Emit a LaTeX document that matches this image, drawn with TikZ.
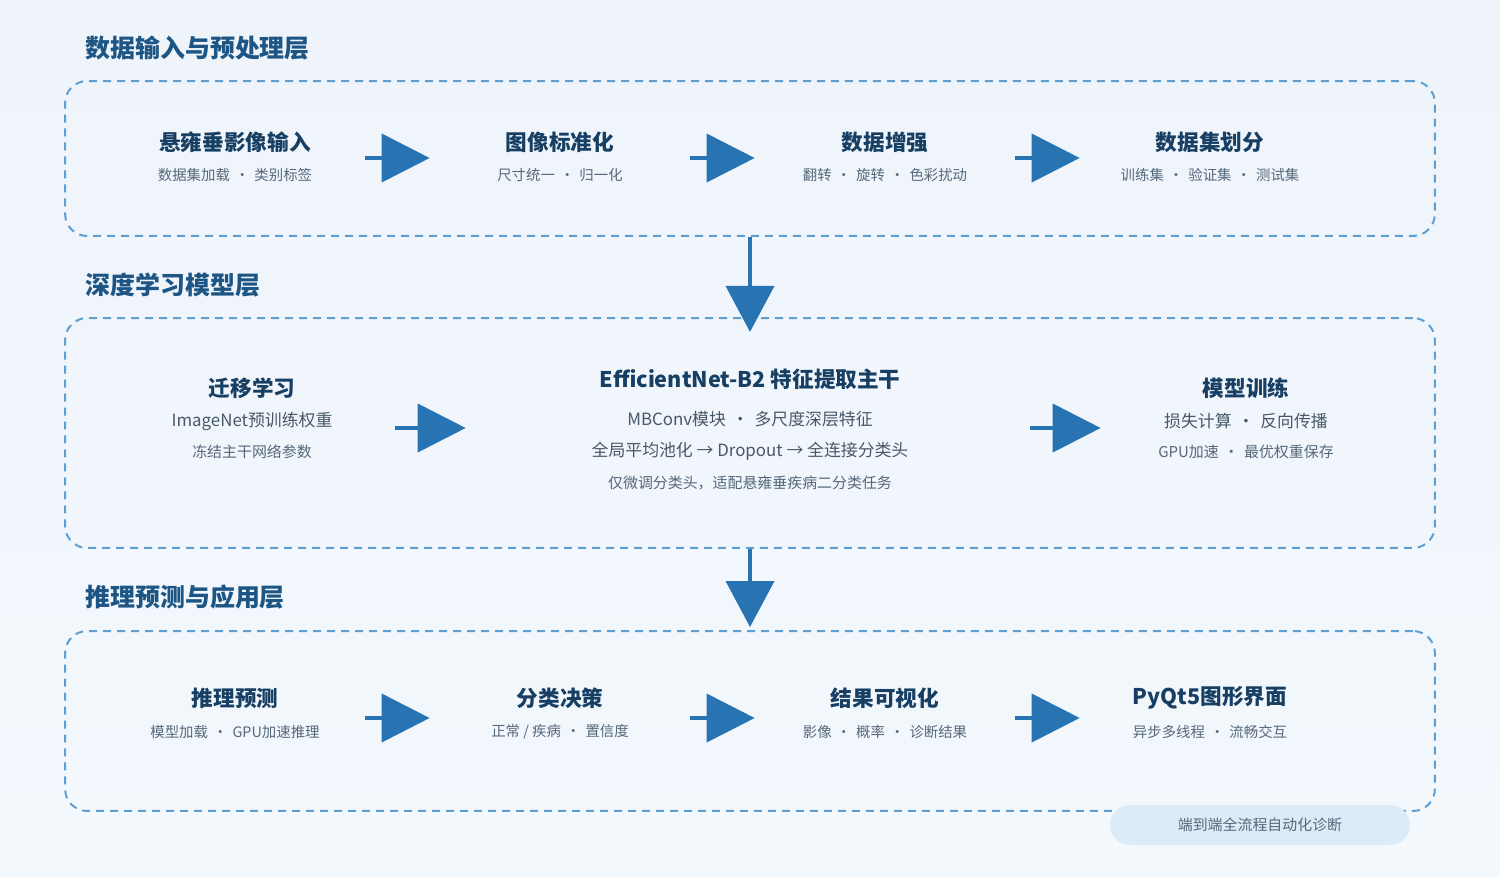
\documentclass[tikz,border=0pt]{standalone}
\usepackage{fontspec}
\setmainfont{Noto Sans CJK SC}
\usetikzlibrary{arrows.meta}

\newdimen\pxu \pxu=0.56906pt
\definecolor{bgtop}{HTML}{EEF4FA}
\definecolor{bgbot}{HTML}{F3F8FD}
\definecolor{dashblue}{HTML}{5E9FD3}
\definecolor{arrblue}{HTML}{2874B2}
\definecolor{secblue}{HTML}{1D5585}
\definecolor{ttlblue}{HTML}{173F63}
\definecolor{subgray}{HTML}{56687A}
\definecolor{tagfill}{HTML}{DCEBF8}
\newcommand\dotsep{\hspace{0.35em}·\hspace{0.35em}}

\begin{document}
\begin{tikzpicture}[x=0.02cm,y=-0.02cm,
	layer/.style={draw=dashblue, line width=2\pxu, dash pattern=on 8\pxu off 6\pxu, rounded corners=22\pxu, minimum width=1370\pxu},
	stage/.style={inner sep=0, minimum height=60\pxu},
	sec/.style={anchor=west, inner sep=0, text=secblue, font=\fontsize{14.2}{16}\selectfont\bfseries},
	ttl/.style={text=ttlblue, font=\fontsize{12.3}{14}\selectfont\bfseries},
	sub/.style={text=subgray, font=\fontsize{8.2}{10}\selectfont},
	subm/.style={text=subgray!85!black, font=\fontsize{9.6}{11}\selectfont},
	subs/.style={text=subgray, font=\fontsize{8.5}{10}\selectfont},
	arr/.style={draw=arrblue, line width=2.28pt, -{Triangle[length=27.3pt, width=27.3pt]}},
	arrv/.style={draw=arrblue, line width=2.28pt, -{Triangle[length=26.2pt, width=27.3pt]}}]

	% background
	\fill[top color=bgtop, bottom color=bgbot] (0,0) rectangle (1500,876);

	% layers
	\node[sec] (sec1) at (85,48)  {数据输入与预处理层};
	\node[sec] (sec2) at (85,285) {深度学习模型层};
	\node[sec] (sec3) at (85,597) {推理预测与应用层};

	\node[layer, minimum height=155\pxu] (L1) at (750,158.5) {};
	\node[layer, minimum height=230\pxu] (L2) at (750,433)   {};
	\node[layer, minimum height=180\pxu] (L3) at (750,721)   {};

	% layer 1
	\node[stage, minimum width=260\pxu] (a1) at (235,158)  {};
	\node[stage, minimum width=260\pxu] (a2) at (560,158)  {};
	\node[stage, minimum width=260\pxu] (a3) at (885,158)  {};
	\node[stage, minimum width=260\pxu] (a4) at (1210,158) {};
	\node[ttl] (a1t) at (235,142)  {悬雍垂影像输入};
	\node[sub] (a1s) at (235,175)  {数据集加载\dotsep 类别标签};
	\node[ttl] (a2t) at (560,142)  {图像标准化};
	\node[sub] (a2s) at (560,175)  {尺寸统一\dotsep 归一化};
	\node[ttl] (a3t) at (885,142)  {数据增强};
	\node[sub] (a3s) at (885,175)  {翻转\dotsep 旋转\dotsep 色彩扰动};
	\node[ttl] (a4t) at (1210,142) {数据集划分};
	\node[sub] (a4s) at (1210,175) {训练集\dotsep 验证集\dotsep 测试集};
	\path (a1) edge[arr] (a2);
	\path (a2) edge[arr] (a3);
	\path (a3) edge[arr] (a4);

	% layer 2
	\node[stage, minimum width=286\pxu] (b1) at (252,428)  {};
	\node[stage, minimum width=564\pxu] (b2) at (748,428)  {};
	\node[stage, minimum width=290\pxu] (b3) at (1246,428) {};
	\node[ttl]  (b1t) at (252,388)  {迁移学习};
	\node[subm] (b1s) at (252,421)  {ImageNet预训练权重};
	\node[subs] (b1u) at (252,452)  {冻结主干网络参数};
	\node[ttl]  (b2t) at (750,379)  {EfficientNet-B2 特征提取主干};
	\node[subm] (b2s) at (750,419)  {MBConv模块\dotsep 多尺度深层特征};
	\node[subm] (b2u) at (750,451)  {全局平均池化 → Dropout → 全连接分类头};
	\node[subs] (b2v) at (750,483)  {仅微调分类头，适配悬雍垂疾病二分类任务};
	\node[ttl]  (b3t) at (1246,388) {模型训练};
	\node[subm] (b3s) at (1246,421) {损失计算\dotsep 反向传播};
	\node[subs] (b3u) at (1246,452) {GPU加速\dotsep 最优权重保存};
	\path (b1) edge[arr] (b2);
	\path (b2) edge[arr] (b3);

	% layer 3
	\node[stage, minimum width=260\pxu] (c1) at (235,718)  {};
	\node[stage, minimum width=260\pxu] (c2) at (560,718)  {};
	\node[stage, minimum width=260\pxu] (c3) at (885,718)  {};
	\node[stage, minimum width=260\pxu] (c4) at (1210,718) {};
	\node[ttl] (c1t) at (235,698)  {推理预测};
	\node[sub] (c1s) at (235,732)  {模型加载\dotsep GPU加速推理};
	\node[ttl] (c2t) at (560,698)  {分类决策};
	\node[sub] (c2s) at (560,732)  {正常 / 疾病\dotsep 置信度};
	\node[ttl] (c3t) at (885,698)  {结果可视化};
	\node[sub] (c3s) at (885,732)  {影像\dotsep 概率\dotsep 诊断结果};
	\node[ttl] (c4t) at (1210,698) {PyQt5图形界面};
	\node[sub] (c4s) at (1210,732) {异步多线程\dotsep 流畅交互};
	\path (c1) edge[arr] (c2);
	\path (c2) edge[arr] (c3);
	\path (c3) edge[arr] (c4);

	% between layers
	\path (L1.south) edge[arrv, shorten >=-8.5pt] (L2.north);
	\path (L2.south) edge[arrv, shorten >=1.7pt] (L3.north);

	% tag
	\node[fill=tagfill, rounded corners=20\pxu, minimum width=300\pxu, minimum height=40\pxu, text=subgray, font=\fontsize{8.5}{10}\selectfont] (tag) at (1260,825) {端到端全流程自动化诊断};
\end{tikzpicture}
\end{document}
